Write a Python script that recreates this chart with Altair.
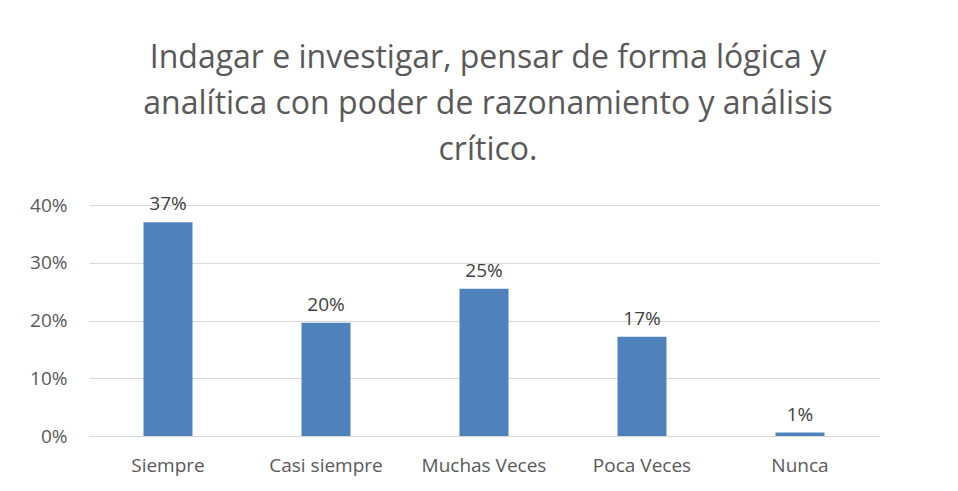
import altair as alt
import pandas as pd

categories = ["Siempre", "Casi siempre", "Muchas Veces", "Poca Veces", "Nunca"]
values = [0.370, 0.196, 0.255, 0.172, 0.006]
labels = ["37%", "20%", "25%", "17%", "1%"]

df = pd.DataFrame({"cat": categories, "val": values, "lab": labels})

title_lines = [
    "Indagar e investigar, pensar de forma lógica y",
    "analítica con poder de razonamiento y análisis",
    "crítico.",
]

x = alt.X("cat:N", sort=categories, title=None,
          scale=alt.Scale(paddingInner=0.69, paddingOuter=0.345),
          axis=alt.Axis(labelAngle=0, labelFontSize=19, labelColor="#595959",
                        labelFont="Open Sans", ticks=False, domain=False,
                        grid=False, labelPadding=20))
y = alt.Y("val:Q", title=None,
          scale=alt.Scale(domain=[0, 0.4]),
          axis=alt.Axis(format=".0%", values=[0, 0.1, 0.2, 0.3, 0.4],
                        labelFontSize=19, labelColor="#595959", labelFont="Open Sans",
                        ticks=False, domain=False, labelPadding=22,
                        gridColor="#d9d9d9", gridWidth=1))

bars = alt.Chart(df).mark_bar(color="#4f81bd").encode(x=x, y=y)
text = alt.Chart(df).mark_text(baseline="bottom", dy=-8, fontSize=19,
                               color="#404040", font="Open Sans").encode(
    x=alt.X("cat:N", sort=categories), y="val:Q", text="lab:N")

chart = (bars + text).properties(
    width=790, height=231,
    background="white",
    title=alt.TitleParams(title_lines, fontSize=32, font="Open Sans",
                          fontWeight="normal", color="#595959",
                          lineHeight=46, anchor="middle", offset=28, dx=4),
    autosize=alt.AutoSizeParams(type="none"),
    padding={"left": 81, "top": 197, "right": 60, "bottom": 47},
).configure_view(stroke="transparent", strokeWidth=0)

chart.save("out.html", embed_options={"renderer": "svg", "actions": False})
